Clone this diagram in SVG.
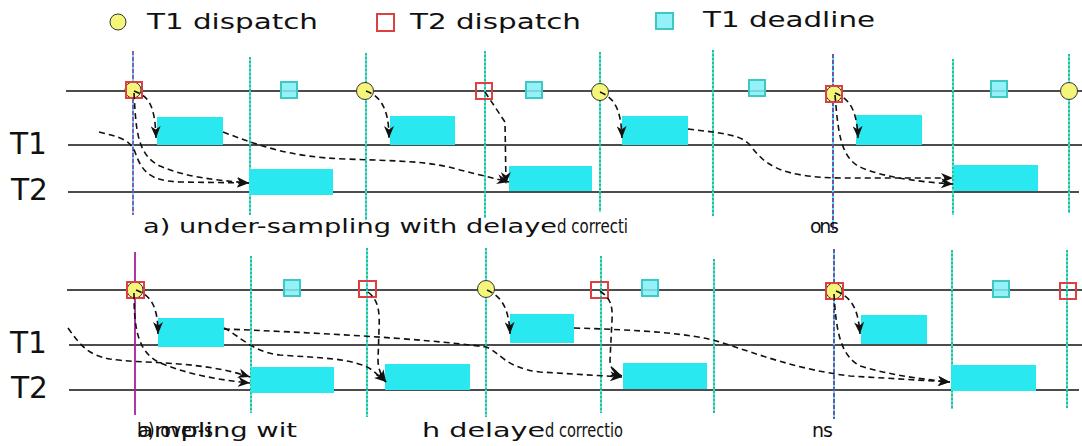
<svg xmlns="http://www.w3.org/2000/svg" width="1082" height="446" viewBox="0 0 1082 446">
<defs>
<style>
.t{font-family:"DejaVu Sans","Liberation Sans",sans-serif;fill:#111}
.hl{stroke:#111;stroke-width:1.6;fill:none}
.vc{stroke:#3fe3f0;stroke-width:1.8}
.vg{stroke:#0a9a0a;stroke-width:1;stroke-dasharray:2 2}
.vm{stroke:#b0209a;stroke-width:1.4;stroke-dasharray:4 2}
.vp{stroke:#7a1a8a;stroke-width:1.4;stroke-dasharray:4 2}
.blk{fill:#2ae8f0}
.dl{fill:#80eff6;fill-opacity:0.85;stroke:#3cc9c6;stroke-width:2}
.t2{fill:none;stroke:#dd4040;stroke-width:2}
.t1{fill:#f5f57a;stroke:#333;stroke-width:1}
.c{fill:none;stroke:#111;stroke-width:1.6;stroke-dasharray:6 4;marker-end:url(#ah)}
</style>
<marker id="ah" markerUnits="userSpaceOnUse" markerWidth="13" markerHeight="10" refX="12" refY="5" orient="auto">
<path d="M0,0 L12,5 L0,10 L3.5,5 z" fill="#111"/>
</marker>
</defs>
<rect width="1082" height="446" fill="#fff"/>

<g id="legend">
<circle class="t1" cx="118" cy="22" r="8"/>
<text class="t" x="147" y="29" font-size="22" textLength="171" lengthAdjust="spacingAndGlyphs">T1 dispatch</text>
<rect class="t2" x="377" y="14" width="17" height="17"/>
<text class="t" x="410" y="29" font-size="22" textLength="171" lengthAdjust="spacingAndGlyphs">T2 dispatch</text>
<rect class="dl" x="656" y="13" width="17" height="16"/>
<text class="t" x="703" y="27" font-size="22" textLength="172" lengthAdjust="spacingAndGlyphs">T1 deadline</text>
</g>

<g id="panel-a">
<g id="a-axes">
<line class="hl" x1="66" y1="91" x2="1082" y2="91"/>
<line class="hl" x1="68" y1="145" x2="1082" y2="145"/>
<line class="hl" x1="68" y1="192" x2="1079" y2="192"/>
<text class="t" x="10" y="154" font-size="30" textLength="37" lengthAdjust="spacingAndGlyphs">T1</text>
<text class="t" x="11" y="200" font-size="30" textLength="37" lengthAdjust="spacingAndGlyphs">T2</text>
</g>
<g id="a-verticals">
<line class="vc" x1="133" y1="51" x2="133" y2="215"/><line class="vm" x1="133" y1="51" x2="133" y2="215"/>
<line class="vc" x1="250" y1="57" x2="250" y2="215"/><line class="vg" x1="250" y1="57" x2="250" y2="215"/>
<line class="vc" x1="366" y1="53" x2="366" y2="220"/><line class="vg" x1="366" y1="53" x2="366" y2="220"/>
<line class="vc" x1="485" y1="51" x2="485" y2="218"/><line class="vg" x1="485" y1="51" x2="485" y2="218"/>
<line class="vc" x1="600" y1="52" x2="600" y2="212"/><line class="vg" x1="600" y1="52" x2="600" y2="212"/>
<line class="vc" x1="713" y1="50" x2="713" y2="216"/><line class="vg" x1="713" y1="50" x2="713" y2="216"/>
<line class="vc" x1="833" y1="54" x2="833" y2="230"/><line class="vp" x1="833" y1="54" x2="833" y2="230"/>
<line class="vc" x1="953" y1="59" x2="953" y2="215"/><line class="vg" x1="953" y1="59" x2="953" y2="215"/>
<line class="vc" x1="1069" y1="54" x2="1069" y2="213"/><line class="vg" x1="1069" y1="54" x2="1069" y2="213"/>
</g>
<g id="a-blocks">
<rect class="blk" x="157" y="117" width="66" height="28"/>
<rect class="blk" x="390" y="116" width="65" height="29"/>
<rect class="blk" x="622" y="116" width="66" height="29"/>
<rect class="blk" x="856" y="115" width="66" height="30"/>
<rect class="blk" x="249" y="169" width="84" height="26"/>
<rect class="blk" x="509" y="166" width="83" height="25"/>
<rect class="blk" x="954" y="165" width="84" height="26"/>
</g>
<g id="a-markers">
<circle class="t1" cx="133" cy="90" r="8"/><rect class="t2" x="126" y="82" width="16" height="16"/>
<rect class="dl" x="281" y="82" width="16" height="16"/>
<circle class="t1" cx="365" cy="91" r="8.5"/>
<rect class="t2" x="476" y="83" width="16" height="16"/>
<rect class="dl" x="526" y="82" width="16" height="16"/>
<circle class="t1" cx="600" cy="92" r="8.5"/>
<rect class="dl" x="749" y="80" width="16" height="16"/>
<circle class="t1" cx="834" cy="94" r="8"/><rect class="t2" x="826" y="86" width="16" height="16"/>
<rect class="dl" x="991" y="81" width="16" height="16"/>
<circle class="t1" cx="1069" cy="91" r="8.5"/>
</g>
<g id="a-connectors">
<path class="c" d="M134 91 C148 96,155 104,156 138"/>
<path class="c" d="M134 93 C136 130,137 155,160 166 C185 177,215 180,249 183"/>
<path class="c" d="M99 132 C120 137,130 140,135 152 C142 172,150 181,180 182 L249 183"/>
<path class="c" d="M223 132 C260 146,290 157,345 159 C400 161,430 161,460 170 L509 182"/>
<path class="c" d="M366 91 C380 96,389 108,389 138"/>
<path class="c" d="M485 92 L505 122 L506 184"/>
<path class="c" d="M600 92 C614 98,621 108,622 138"/>
<path class="c" d="M688 129 C720 133,740 134,750 145 C765 165,780 177,840 178 L953 178"/>
<path class="c" d="M835 93 C848 98,857 108,858 138"/>
<path class="c" d="M835 95 C838 130,840 155,858 166 C880 177,920 182,953 184"/>
</g>
<g id="a-caption">
<text class="t" x="143" y="233" font-size="19" textLength="414" lengthAdjust="spacingAndGlyphs">a) under-sampling with delaye</text>
<text class="t" x="557" y="233" font-size="19" textLength="71" lengthAdjust="spacingAndGlyphs">d correcti</text>
<text class="t" x="810" y="233" font-size="19" textLength="29" lengthAdjust="spacing">ons</text>
</g>
</g>

<g id="panel-b">
<g id="b-axes">
<line class="hl" x1="67" y1="290" x2="1082" y2="290"/>
<line class="hl" x1="69" y1="345" x2="1082" y2="345"/>
<line class="hl" x1="69" y1="390" x2="1079" y2="390"/>
<text class="t" x="10" y="353" font-size="30" textLength="37" lengthAdjust="spacingAndGlyphs">T1</text>
<text class="t" x="11" y="398" font-size="30" textLength="37" lengthAdjust="spacingAndGlyphs">T2</text>
</g>
<g id="b-verticals">
<line x1="135" y1="252" x2="135" y2="415" stroke="#a8209c" stroke-width="1.8"/>
<line class="vc" x1="251" y1="256" x2="251" y2="413"/><line class="vg" x1="251" y1="256" x2="251" y2="413"/>
<line class="vc" x1="367" y1="248" x2="367" y2="417"/><line class="vg" x1="367" y1="248" x2="367" y2="417"/>
<line class="vc" x1="486" y1="248" x2="486" y2="417"/><line class="vg" x1="486" y1="248" x2="486" y2="417"/>
<line class="vc" x1="601" y1="256" x2="601" y2="413"/><line class="vg" x1="601" y1="256" x2="601" y2="413"/>
<line class="vc" x1="714" y1="259" x2="714" y2="413"/><line class="vg" x1="714" y1="259" x2="714" y2="413"/>
<line class="vc" x1="834" y1="249" x2="834" y2="419"/><line class="vp" x1="834" y1="249" x2="834" y2="419"/>
<line class="vc" x1="952" y1="250" x2="952" y2="409"/><line class="vg" x1="952" y1="250" x2="952" y2="409"/>
<line class="vc" x1="1067" y1="250" x2="1067" y2="408"/><line class="vg" x1="1067" y1="250" x2="1067" y2="408"/>
</g>
<g id="b-blocks">
<rect class="blk" x="158" y="318" width="66" height="29"/>
<rect class="blk" x="510" y="314" width="64" height="29"/>
<rect class="blk" x="861" y="315" width="66" height="29"/>
<rect class="blk" x="251" y="367" width="83" height="26"/>
<rect class="blk" x="385" y="364" width="85" height="26"/>
<rect class="blk" x="623" y="363" width="84" height="26"/>
<rect class="blk" x="951" y="365" width="85" height="26"/>
</g>
<g id="b-markers">
<circle class="t1" cx="135" cy="290" r="8"/><rect class="t2" x="127" y="282" width="17" height="16"/>
<rect class="dl" x="284" y="280" width="16" height="16"/>
<rect class="t2" x="359" y="281" width="17" height="16"/>
<circle class="t1" cx="486" cy="289" r="8.5"/>
<rect class="t2" x="591" y="282" width="17" height="16"/>
<rect class="dl" x="642" y="280" width="16" height="16"/>
<circle class="t1" cx="834" cy="291" r="8"/><rect class="t2" x="826" y="283" width="17" height="16"/>
<rect class="dl" x="993" y="281" width="16" height="16"/>
<rect class="t2" x="1060" y="283" width="16" height="16"/>
</g>
<g id="b-connectors">
<path class="c" d="M136 290 C150 295,158 305,158 334"/>
<path class="c" d="M134 293 C134 330,138 352,160 363 C190 375,220 380,250 383"/>
<path class="c" d="M68 328 C80 345,88 355,110 359 C140 364,200 360,250 377"/>
<path class="c" d="M224 328 C240 336,252 352,280 355 C320 358,355 358,372 370 L386 382"/>
<path class="c" d="M224 329 C300 332,420 338,486 347 C500 352,505 368,540 372 L622 377"/>
<path class="c" d="M368 292 C378 300,380 310,379 330 L378 360 C378 370,382 376,386 382"/>
<path class="c" d="M487 290 C500 296,509 306,510 334"/>
<path class="c" d="M600 291 C610 298,613 305,612 320 L610 360 C610 368,614 373,622 376"/>
<path class="c" d="M574 328 C640 330,690 333,720 342 C760 355,800 370,850 376 L950 382"/>
<path class="c" d="M836 291 C850 297,858 306,860 334"/>
<path class="c" d="M834 294 C836 330,840 355,860 366 C890 375,920 379,950 382"/>
</g>
<g id="b-caption">
<text class="t" x="137" y="437" font-size="19" textLength="160" lengthAdjust="spacingAndGlyphs">ampling wit</text>
<text class="t" x="137" y="437" font-size="19" textLength="76" lengthAdjust="spacingAndGlyphs">b) over-s</text>
<text class="t" x="422" y="437" font-size="19" textLength="123" lengthAdjust="spacingAndGlyphs">h delaye</text>
<text class="t" x="545" y="437" font-size="19" textLength="78" lengthAdjust="spacingAndGlyphs">d correctio</text>
<text class="t" x="812" y="437" font-size="19" textLength="21" lengthAdjust="spacing">ns</text>
</g>
</g>
</svg>
